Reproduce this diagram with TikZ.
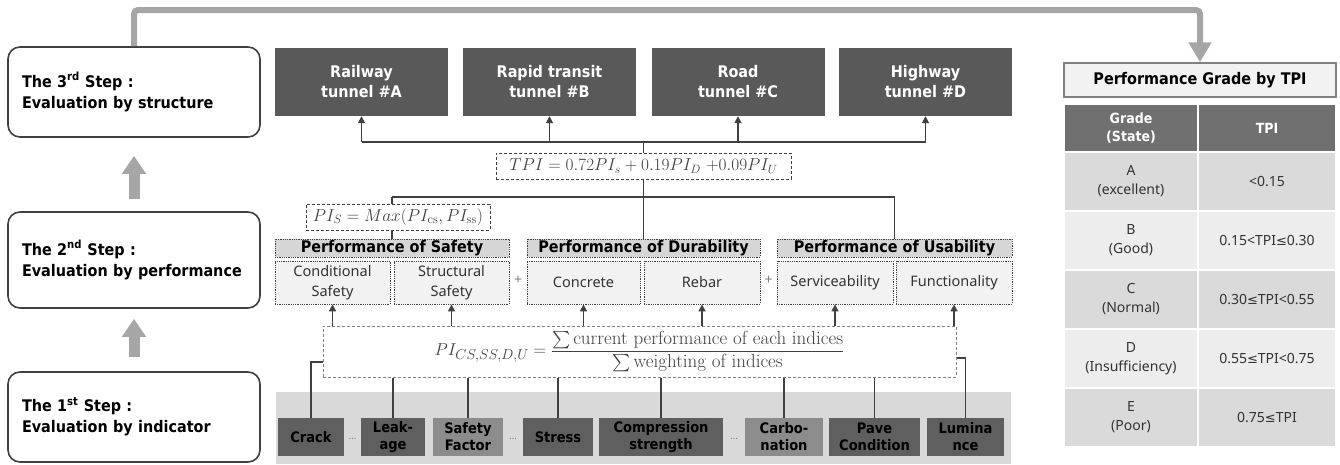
\documentclass[tikz,border=0pt]{standalone}
\usepackage{amsmath}
\usepackage{fontspec}
\usetikzlibrary{arrows.meta,backgrounds}
\newfontfamily\cb{DejaVu Sans Condensed Bold}
\newfontfamily\ns{Noto Sans}
\newfontfamily\djv{DejaVu Sans}
\newcommand{\myle}{{\djv\fontsize{13}{19}\selectfont ≤}}
\definecolor{cdark}{HTML}{404040}
\definecolor{ctun}{HTML}{595959}
\definecolor{chdr}{HTML}{D6D6D6}
\definecolor{csub}{HTML}{F2F2F2}
\definecolor{cband}{HTML}{D9D9D9}
\definecolor{cind}{HTML}{5F5F5F}
\definecolor{cindm}{HTML}{8C8C8C}
\definecolor{cgarrow}{HTML}{A6A6A6}
\definecolor{cth}{HTML}{707070}
\definecolor{crowA}{HTML}{DADADA}
\definecolor{crowB}{HTML}{EDEDED}
\definecolor{ctitle}{HTML}{F2F2F2}
\definecolor{cgborder}{HTML}{808080}
\definecolor{ctext}{HTML}{333333}
\begin{document}
\begin{tikzpicture}[x=1pt,y=-1pt,
  stepbox/.style={draw=cdark, line width=1.6pt, rounded corners=12pt, fill=white,
    minimum width=252pt, text width=224pt, align=left, inner sep=0pt,
    font=\cb\fontsize{16}{21}\selectfont, text=black},
  tunnel/.style={fill=ctun, text=white, minimum width=173pt, minimum height=68pt,
    inner sep=0pt, align=center, font=\cb\fontsize{16}{20}\selectfont},
  hdr/.style={draw=cdark, densely dotted, line width=0.8pt, fill=chdr, minimum height=18pt,
    inner sep=0pt, font=\cb\fontsize{16}{18}\selectfont, text=black},
  subbox/.style={draw=cdark, densely dotted, line width=0.8pt, fill=csub, minimum height=43pt,
    inner sep=0pt, align=center, font=\ns\fontsize{14.5}{20}\selectfont, text=ctext},
  formbox/.style={draw=cdark, dashed, dash pattern=on 3pt off 2pt, line width=0.9pt, fill=white,
    inner sep=0pt, text=cdark, font=\fontsize{18}{20}\selectfont},
  indbox/.style={fill=cind, minimum height=38pt, inner sep=0pt, align=center,
    font=\cb\fontsize{14.5}{17}\selectfont, text=black},
  indmid/.style={indbox, fill=cindm},
  plus/.style={font=\ns\fontsize{14}{14}\selectfont, text=cgborder, inner sep=0pt},
  dotsn/.style={font=\ns\fontsize{10}{10}\selectfont, text=cgborder, inner sep=0pt},
  gtitle/.style={draw=cgborder, line width=1.5pt, fill=ctitle, minimum width=272pt, minimum height=34pt,
    inner sep=0pt, font=\cb\fontsize{16}{18}\selectfont, text=black},
  thead/.style={fill=cth, text=white, minimum height=46pt, inner sep=0pt, align=center,
    font=\cb\fontsize{14}{18}\selectfont},
  trow/.style={minimum height=57pt, inner sep=0pt, align=center,
    font=\ns\fontsize{14}{19}\selectfont, text=ctext},
  colg/.style={minimum width=132pt},
  colt/.style={minimum width=136pt},
  conn/.style={draw=cdark, line width=1.6pt},
  arr/.style={conn, -{Triangle[width=7pt,length=7pt]}},
  bigarr/.style={draw=cgarrow, line width=11pt, -{Triangle[width=23pt,length=18pt]}},
  topline/.style={draw=cgarrow, line width=6pt, rounded corners=4pt, -{Triangle[width=22pt,length=20pt]}}
]
\useasboundingbox (0,0) rectangle (1340,464);

% step boxes
\node[stepbox, minimum height=90pt] (s3) at (134,92) {The 3\textsuperscript{rd} Step :\\Evaluation by structure};
\node[stepbox, minimum height=96pt] (s2) at (134,260) {The 2\textsuperscript{nd} Step :\\Evaluation by performance};
\node[stepbox, minimum height=90pt] (s1) at (134,417) {The 1\textsuperscript{st} Step :\\Evaluation by indicator};

% tunnels
\node[tunnel] (tA) at (361.5,82) {Railway\\tunnel \#A};
\node[tunnel] (tB) at (549.5,82) {Rapid transit\\tunnel \#B};
\node[tunnel] (tC) at (738,82) {Road\\tunnel \#C};
\node[tunnel] (tD) at (925.5,82) {Highway\\tunnel \#D};

% formulas
\node[formbox, minimum width=295pt, minimum height=26pt] (tpi) at (643.5,166)
  {$TPI = 0.72PI_s + 0.19PI_D\ {+}0.09PI_U$};
\node[formbox, minimum width=184pt, minimum height=26pt] (pis) at (398,217)
  {$PI_S = Max(PI_{\mathrm{cs}}, PI_{\mathrm{ss}})$};

% headers
\node[hdr, minimum width=234pt] (hS) at (392,248) {Performance of Safety};
\node[hdr, minimum width=233pt] (hD) at (643.5,248) {Performance of Durability};
\node[hdr, minimum width=235pt] (hU) at (894.5,248) {Performance of Usability};

% sub boxes
\node[subbox, minimum width=115pt] (cs) at (332.5,282.5) {Conditional\\Safety};
\node[subbox, minimum width=115pt] (ss) at (451.5,282.5) {Structural\\Safety};
\node[subbox, minimum width=113pt] (con) at (583.5,282.5) {Concrete};
\node[subbox, minimum width=116pt] (reb) at (702,282.5) {Rebar};
\node[subbox, minimum width=116pt] (ser) at (835,282.5) {Serviceability};
\node[subbox, minimum width=116pt] (fun) at (954,282.5) {Functionality};
\node[plus] (p1) at (518,280) {+};
\node[plus] (p2) at (768.5,280) {+};

% big formula
\node[formbox, draw=cgborder, line width=1pt, minimum width=633pt, minimum height=51pt,
  font=\fontsize{19}{21}\selectfont] (fbox) at (639.5,351.5)
  {$\displaystyle PI_{CS,SS,D,U} = \frac{\textstyle\sum \text{current performance of each indices}}{\textstyle\sum \text{weighting of indices}}$};

% indicators
\node[indbox, minimum width=66pt] (crack) at (311,437) {Crack};
\node[indbox, minimum width=64pt] (leak) at (393,437) {Leak-\\age};
\node[indmid, minimum width=70pt] (sf) at (468,437) {Safety\\Factor};
\node[indbox, minimum width=70pt] (stress) at (558,437) {Stress};
\node[indbox, minimum width=124pt] (comp) at (661,437) {Compression\\strength};
\node[indmid, minimum width=78pt] (carb) at (784,437) {Carbo-\\nation};
\node[indbox, minimum width=91pt] (pave) at (874.5,437) {Pave\\Condition};
\node[indbox, minimum width=77pt] (lum) at (965.5,437) {Lumina\\nce};
\node[dotsn] (d1) at (352.5,439) {…};
\node[dotsn] (d2) at (513,439) {…};
\node[dotsn] (d3) at (734,439) {…};

% table
\node[gtitle] (title) at (1200,80) {Performance Grade by TPI};
\node[thead, colg] (hg) at (1131,128) {Grade\\(State)};
\node[thead, colt] (ht) at (1267,128) {TPI};
\node[trow, colg, fill=crowA] (gA) at (1131,181.5) {A\\(excellent)};
\node[trow, colt, fill=crowA] (vA) at (1267,181.5) {<0.15};
\node[trow, colg, fill=crowB] (gB) at (1131,240.5) {B\\(Good)};
\node[trow, colt, fill=crowB] (vB) at (1267,240.5) {0.15<TPI\myle0.30};
\node[trow, colg, fill=crowA] (gC) at (1131,299.5) {C\\(Normal)};
\node[trow, colt, fill=crowA] (vC) at (1267,299.5) {0.30\myle TPI<0.55};
\node[trow, colg, fill=crowB] (gD) at (1131,358.5) {D\\(Insufficiency)};
\node[trow, colt, fill=crowB] (vD) at (1267,358.5) {0.55\myle TPI<0.75};
\node[trow, colg, fill=crowA] (gE) at (1131,417.5) {E\\(Poor)};
\node[trow, colt, fill=crowA] (vE) at (1267,417.5) {0.75\myle TPI};

\coordinate (toprail) at (0,10);
\coordinate (tbus) at (0,142);
\coordinate (pbus) at (0,197);

\begin{pgfonlayer}{background}
  \node[fill=cband, minimum width=735pt, minimum height=72pt, inner sep=0pt] (band) at (643.5,427.5) {};
  % TPI to tunnels
  \draw[conn] (tpi.north) -- (tpi.north |- tbus);
  \draw[conn] (tA.south |- tbus) -- (tD.south |- tbus);
  \draw[arr] (tA.south |- tbus) -- (tA.south);
  \draw[arr] (tB.south |- tbus) -- (tB.south);
  \draw[arr] (tC.south |- tbus) -- (tC.south);
  \draw[arr] (tD.south |- tbus) -- (tD.south);
  % headers to TPI
  \draw[conn] (tpi.south) -- (hD.north);
  \draw[conn] (hS.north |- pbus) -- (hU.north |- pbus);
  \draw[conn] (hS.north |- pbus) -- (hS.north);
  \draw[conn] (hU.north |- pbus) -- (hU.north);
  % formula to sub boxes
  \foreach \n in {cs,ss,con,reb,ser,fun}
    \draw[arr] (\n.south |- fbox.north) -- (\n.south);
  % indicators to formula
  \draw[conn] (crack.north) |- ([yshift=-10.5pt]fbox.west);
  \draw[conn] (lum.north) |- ([yshift=-6.5pt]fbox.east);
  \foreach \n in {leak,sf,stress,comp,carb,pave}
    \draw[conn] (\n.north) -- (\n.north |- fbox.south);
\end{pgfonlayer}

% big gray arrows
\draw[bigarr, shorten <=14pt, shorten >=10pt] (s1.north) -- (s2.south);
\draw[bigarr, shorten <=12pt, shorten >=18pt] (s2.north) -- (s3.south);
\draw[topline] (s3.north) |- (title.north |- toprail) -- (title.north);
\end{tikzpicture}
\end{document}
